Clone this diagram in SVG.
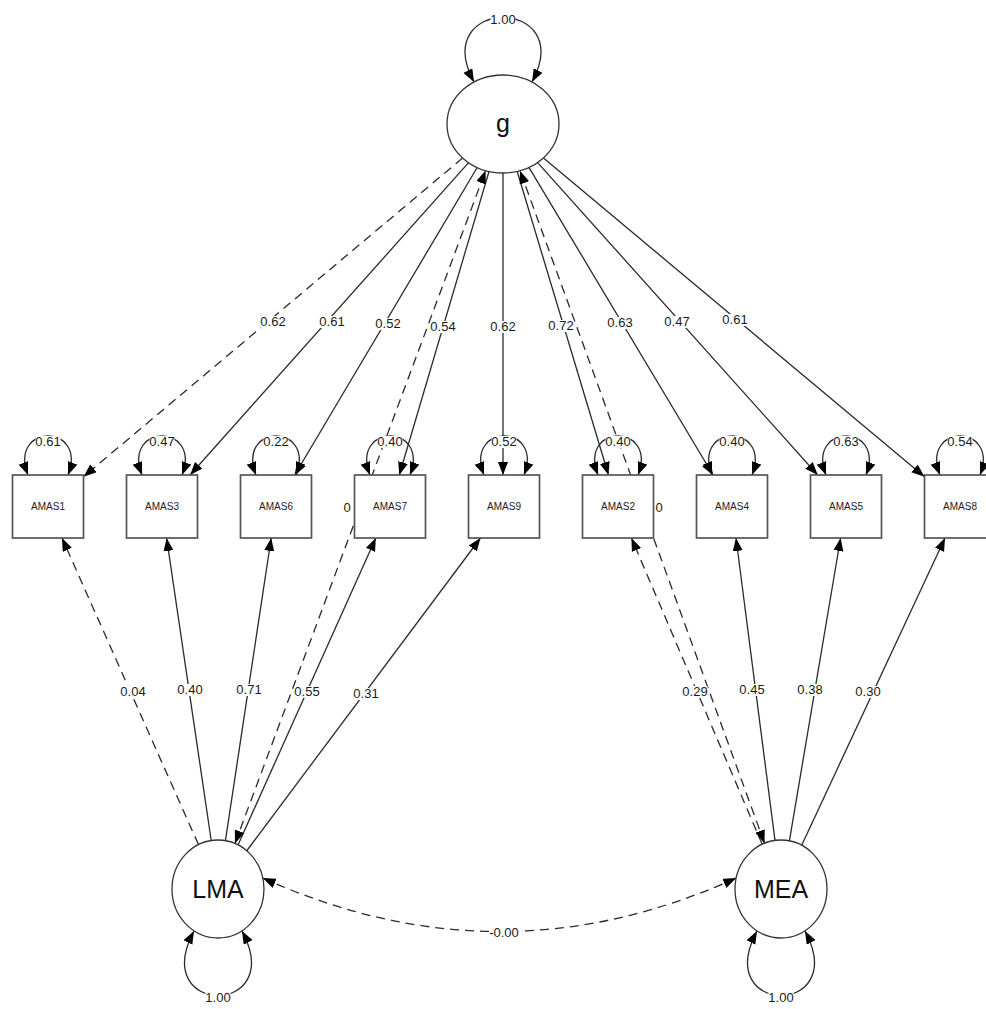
<svg xmlns="http://www.w3.org/2000/svg" width="986" height="1009" viewBox="0 0 986 1009">
<defs>
<marker id="ah" markerUnits="userSpaceOnUse" markerWidth="14" markerHeight="11" refX="13" refY="5" orient="auto-start-reverse"><path d="M0,0 L13,5 L0,10 z" fill="#000" stroke="none"/></marker>
<style>
.e{stroke:#2a2a2a;stroke-width:1.3;fill:none;marker-end:url(#ah)}
.d{stroke-dasharray:9 6}
.b{marker-start:url(#ah)}
.bg{fill:#fff;stroke:none}
.l{font-family:"Liberation Sans",Arial,sans-serif;font-size:13px;fill:#1a1a1a;text-anchor:middle}
.box{fill:#fff;stroke:#555;stroke-width:1.7}
.lat{fill:#fff;stroke:#333;stroke-width:1.3}
.bt{font-family:"Liberation Sans",Arial,sans-serif;font-size:10px;fill:#222;text-anchor:middle}
.lt{font-family:"Liberation Sans",Arial,sans-serif;font-size:25px;fill:#111;text-anchor:middle}
</style>
</defs>
<rect width="986" height="1009" fill="#fff"/>
<g id="connectors">
<path class="e d" d="M462.6,158 L83.5,476.7"/>
<path class="e" d="M468.6,162.6 L190.1,475"/>
<path class="e" d="M477.2,167.5 L294.7,475"/>
<path class="e" d="M489,171.5 L399.3,475"/>
<path class="e" d="M503,173 L503,475"/>
<path class="e" d="M517.2,171.5 L608.5,475"/>
<path class="e" d="M528.9,167.3 L713.1,475"/>
<path class="e" d="M537.6,162.6 L817.7,475"/>
<path class="e" d="M543.5,157.9 L924.5,476.8"/>
<path class="e d" d="M198.5,844.6 L62,538"/>
<path class="e" d="M211.2,840.5 L166.6,538"/>
<path class="e" d="M225.4,840.8 L271.2,538"/>
<path class="e" d="M238,845 L375.8,538"/>
<path class="e" d="M246.6,851 L480.5,538"/>
<path class="e d" d="M762.2,844.3 L631.4,538"/>
<path class="e" d="M775,840.4 L736,538"/>
<path class="e" d="M789.4,840.8 L840.6,538"/>
<path class="e" d="M801.7,845.2 L945,538"/>
<path class="e d b" d="M235,843.4 L485.6,170.6"/>
<path class="e d b" d="M764.5,843.2 L520,170.7"/>
<path class="e d b" d="M262.8,878 Q500,985 736.2,878"/>
<path class="e b" d="M474,82 C428,-4 578,-4 532,82"/>
<path class="e b" d="M194,931 C148,1017 288,1017 242,931"/>
<path class="e b" d="M757,931 C711,1017 851,1017 805,931"/>
<path class="e b" d="M28,475 C8,423 88,423 68,475"/>
<path class="e b" d="M142,475 C122,423 202,423 182,475"/>
<path class="e b" d="M256,475 C236,423 316,423 296,475"/>
<path class="e b" d="M370,475 C350,423 430,423 410,475"/>
<path class="e b" d="M484,475 C464,423 544,423 524,475"/>
<path class="e b" d="M598,475 C578,423 658,423 638,475"/>
<path class="e b" d="M712,475 C692,423 772,423 752,475"/>
<path class="e b" d="M826,475 C806,423 886,423 866,475"/>
<path class="e b" d="M940,475 C920,423 1000,423 980,475"/>
<g id="edge-label-backgrounds">
<rect class="bg" x="260.5" y="316" width="25" height="12"/>
<rect class="bg" x="319.5" y="316" width="25" height="12"/>
<rect class="bg" x="375.5" y="318" width="25" height="12"/>
<rect class="bg" x="430.5" y="321" width="25" height="12"/>
<rect class="bg" x="490.5" y="321" width="25" height="12"/>
<rect class="bg" x="548.5" y="320" width="25" height="12"/>
<rect class="bg" x="607.5" y="317" width="25" height="12"/>
<rect class="bg" x="664.5" y="316" width="25" height="12"/>
<rect class="bg" x="722.5" y="314" width="25" height="12"/>
<rect class="bg" x="120.5" y="686" width="25" height="12"/>
<rect class="bg" x="177.5" y="684" width="25" height="12"/>
<rect class="bg" x="236.5" y="684" width="25" height="12"/>
<rect class="bg" x="294.5" y="686" width="25" height="12"/>
<rect class="bg" x="353.5" y="688" width="25" height="12"/>
<rect class="bg" x="682.5" y="686" width="25" height="12"/>
<rect class="bg" x="739.5" y="684" width="25" height="12"/>
<rect class="bg" x="797.5" y="684" width="25" height="12"/>
<rect class="bg" x="855.5" y="686" width="25" height="12"/>
<rect class="bg" x="342" y="502" width="10" height="12"/>
<rect class="bg" x="654" y="502" width="10" height="12"/>
<rect class="bg" x="489" y="927" width="30" height="12"/>
<rect class="bg" x="490.5" y="14" width="25" height="12"/>
<rect class="bg" x="205.5" y="992" width="25" height="12"/>
<rect class="bg" x="768.5" y="992" width="25" height="12"/>
<rect class="bg" x="35.5" y="436" width="25" height="12"/>
<rect class="bg" x="149.5" y="436" width="25" height="12"/>
<rect class="bg" x="263.5" y="436" width="25" height="12"/>
<rect class="bg" x="377.5" y="436" width="25" height="12"/>
<rect class="bg" x="491.5" y="436" width="25" height="12"/>
<rect class="bg" x="605.5" y="436" width="25" height="12"/>
<rect class="bg" x="719.5" y="436" width="25" height="12"/>
<rect class="bg" x="833.5" y="436" width="25" height="12"/>
<rect class="bg" x="947.5" y="436" width="25" height="12"/>
</g>
<text class="l" x="273" y="326">0.62</text>
<text class="l" x="332" y="326">0.61</text>
<text class="l" x="388" y="328">0.52</text>
<text class="l" x="443" y="331">0.54</text>
<text class="l" x="503" y="331">0.62</text>
<text class="l" x="561" y="330">0.72</text>
<text class="l" x="620" y="327">0.63</text>
<text class="l" x="677" y="326">0.47</text>
<text class="l" x="735" y="324">0.61</text>
<text class="l" x="133" y="696">0.04</text>
<text class="l" x="190" y="694">0.40</text>
<text class="l" x="249" y="694">0.71</text>
<text class="l" x="307" y="696">0.55</text>
<text class="l" x="366" y="698">0.31</text>
<text class="l" x="695" y="696">0.29</text>
<text class="l" x="752" y="694">0.45</text>
<text class="l" x="810" y="694">0.38</text>
<text class="l" x="868" y="696">0.30</text>
<text class="l" x="347" y="512">0</text>
<text class="l" x="659" y="512">0</text>
<text class="l" x="504" y="937">-0.00</text>
<text class="l" x="503" y="24">1.00</text>
<text class="l" x="218" y="1002">1.00</text>
<text class="l" x="781" y="1002">1.00</text>
<text class="l" x="48" y="446">0.61</text>
<text class="l" x="162" y="446">0.47</text>
<text class="l" x="276" y="446">0.22</text>
<text class="l" x="390" y="446">0.40</text>
<text class="l" x="504" y="446">0.52</text>
<text class="l" x="618" y="446">0.40</text>
<text class="l" x="732" y="446">0.40</text>
<text class="l" x="846" y="446">0.63</text>
<text class="l" x="960" y="446">0.54</text>
</g>
<g id="node-g"><ellipse class="lat" cx="503" cy="124" rx="56" ry="49"/><text class="lt" x="503" y="132">g</text></g>
<g id="node-LMA"><ellipse class="lat" cx="218" cy="889" rx="46" ry="49"/><text class="lt" x="218" y="898">LMA</text></g>
<g id="node-MEA"><ellipse class="lat" cx="781" cy="889" rx="46" ry="49"/><text class="lt" x="781" y="898">MEA</text></g>
<g id="node-AMAS1"><rect class="box" x="12.5" y="475" width="71" height="63"/><text class="bt" x="48" y="510">AMAS1</text></g>
<g id="node-AMAS3"><rect class="box" x="126.5" y="475" width="71" height="63"/><text class="bt" x="162" y="510">AMAS3</text></g>
<g id="node-AMAS6"><rect class="box" x="240.5" y="475" width="71" height="63"/><text class="bt" x="276" y="510">AMAS6</text></g>
<g id="node-AMAS7"><rect class="box" x="354.5" y="475" width="71" height="63"/><text class="bt" x="390" y="510">AMAS7</text></g>
<g id="node-AMAS9"><rect class="box" x="468.5" y="475" width="71" height="63"/><text class="bt" x="504" y="510">AMAS9</text></g>
<g id="node-AMAS2"><rect class="box" x="582.5" y="475" width="71" height="63"/><text class="bt" x="618" y="510">AMAS2</text></g>
<g id="node-AMAS4"><rect class="box" x="696.5" y="475" width="71" height="63"/><text class="bt" x="732" y="510">AMAS4</text></g>
<g id="node-AMAS5"><rect class="box" x="810.5" y="475" width="71" height="63"/><text class="bt" x="846" y="510">AMAS5</text></g>
<g id="node-AMAS8"><rect class="box" x="924.5" y="475" width="71" height="63"/><text class="bt" x="960" y="510">AMAS8</text></g>
</svg>
